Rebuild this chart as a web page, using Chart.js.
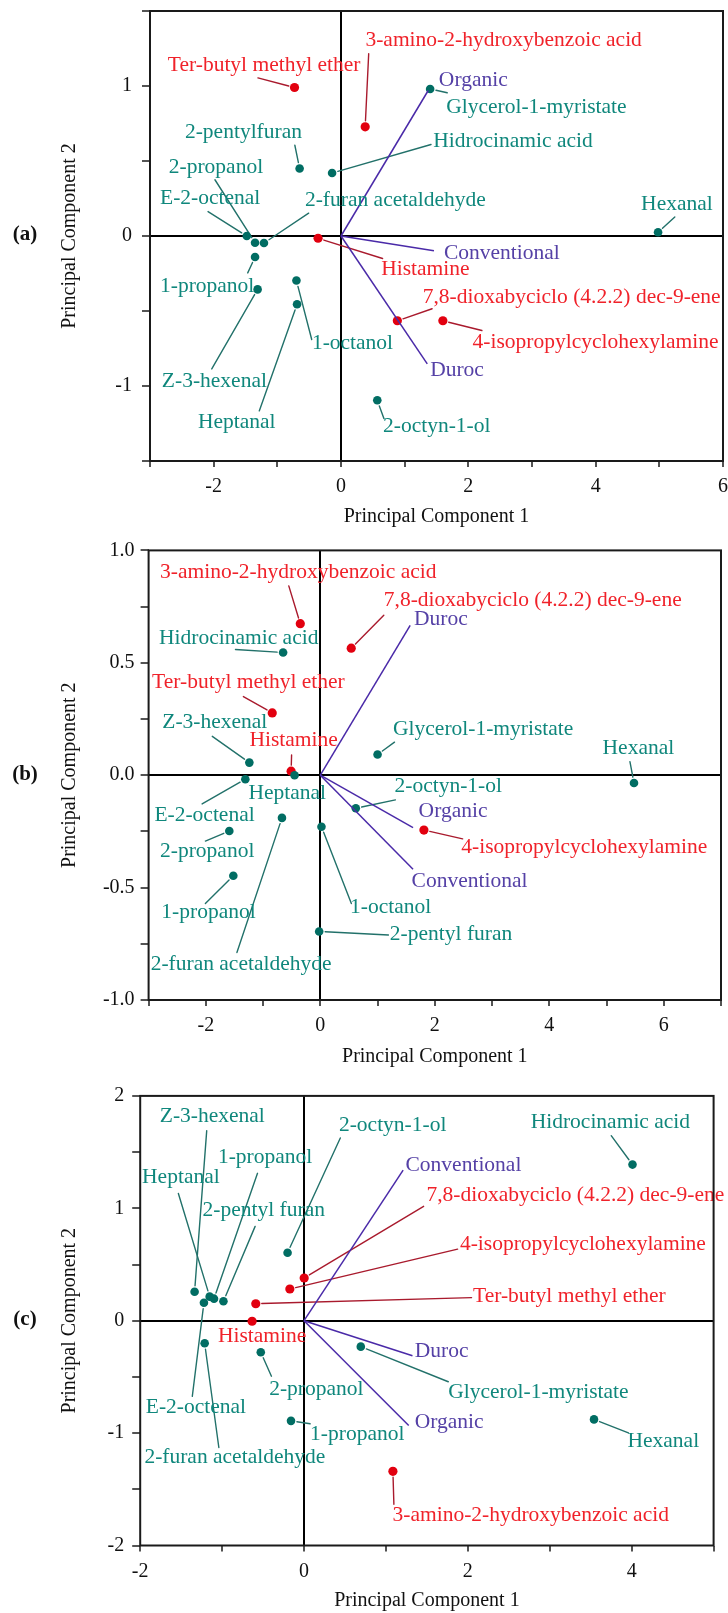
<!DOCTYPE html>
<html><head><meta charset="utf-8">
<script src="https://cdn.jsdelivr.net/npm/chart.js@4.4.1/dist/chart.umd.min.js"></script>
<style>
html,body{margin:0;padding:0;background:#fff;}
body{width:728px;height:1613px;position:relative;overflow:hidden;}
canvas{position:absolute;left:0;}
</style></head><body>
<canvas id="ca" width="728" height="538" style="top:0px"></canvas>
<canvas id="cb" width="728" height="538" style="top:538px"></canvas>
<canvas id="cc" width="728" height="537" style="top:1076px"></canvas>
<script>
// ---------------- DATA ----------------
// Panel (a)
const aTealNames = ['Glycerol-1-myristate','2-pentylfuran','Hidrocinamic acid','E-2-octenal','2-propanol','2-furan acetaldehyde','1-propanol','Z-3-hexenal','1-octanol','Heptanal','Hexanal','2-octyn-1-ol'];
const aTealPC1 = [1.40, -0.65, -0.14, -1.48, -1.35, -1.21, -1.35, -1.31, -0.70, -0.69, 4.98, 0.57];
const aTealPC2 = [0.98, 0.45, 0.42, 0.00, -0.045, -0.047, -0.14, -0.356, -0.297, -0.455, 0.025, -1.095];
const aRedNames = ['Ter-butyl methyl ether','3-amino-2-hydroxybenzoic acid','Histamine','7,8-dioxabyciclo (4.2.2) dec-9-ene','4-isopropylcyclohexylamine'];
const aRedPC1 = [-0.73, 0.38, -0.36, 0.885, 1.60];
const aRedPC2 = [0.99, 0.728, -0.015, -0.565, -0.565];
const aVecNames = ['Organic','Conventional','Duroc'];
const aVecPC1 = [1.37, 1.46, 1.355];
const aVecPC2 = [0.97, -0.098, -0.852];
const aXTickLabels = ['-2','0','2','4','6'];
const aXTickValues = [-2, 0, 2, 4, 6];
const aYTickLabels = ['-1','0','1'];
const aYTickValues = [-1, 0, 1];

// Panel (b)
const bTealNames = ['Hidrocinamic acid','Z-3-hexenal','Heptanal','E-2-octenal','Glycerol-1-myristate','Hexanal','2-octyn-1-ol','2-furan acetaldehyde','2-propanol','1-octanol','1-propanol','2-pentyl furan'];
const bTealPC1 = [-0.65, -1.24, -0.45, -1.31, 1.00, 5.48, 0.62, -0.67, -1.59, 0.02, -1.52, -0.02];
const bTealPC2 = [0.546, 0.056, 0.0, -0.018, 0.092, -0.035, -0.147, -0.19, -0.248, -0.229, -0.447, -0.695];
const bRedNames = ['3-amino-2-hydroxybenzoic acid','7,8-dioxabyciclo (4.2.2) dec-9-ene','Ter-butyl methyl ether','Histamine','4-isopropylcyclohexylamine'];
const bRedPC1 = [-0.35, 0.54, -0.84, -0.51, 1.81];
const bRedPC2 = [0.674, 0.565, 0.277, 0.018, -0.244];
const bVecNames = ['Duroc','Organic','Conventional'];
const bVecPC1 = [1.57, 1.62, 1.62];
const bVecPC2 = [0.666, -0.233, -0.418];
const bXTickLabels = ['-2','0','2','4','6'];
const bXTickValues = [-2, 0, 2, 4, 6];
const bYTickLabels = ['-1.0','-0.5','0.0','0.5','1.0'];
const bYTickValues = [-1, -0.5, 0, 0.5, 1];

// Panel (c)
const cTealNames = ['Z-3-hexenal','Heptanal','1-propanol','2-pentyl furan','E-2-octenal','2-furan acetaldehyde','2-octyn-1-ol','Hidrocinamic acid','2-propanol','Glycerol-1-myristate','1-propanol','Hexanal'];
const cTealPC1 = [-1.336, -1.152, -1.099, -0.984, -1.222, -1.213, -0.201, 4.01, -0.528, 0.693, -0.159, 3.54];
const cTealPC2 = [0.258, 0.214, 0.196, 0.173, 0.16, -0.201, 0.605, 1.389, -0.281, -0.231, -0.891, -0.878];
const cRedNames = ['7,8-dioxabyciclo (4.2.2) dec-9-ene','4-isopropylcyclohexylamine','Ter-butyl methyl ether','Histamine','3-amino-2-hydroxybenzoic acid'];
const cRedPC1 = [0.002, -0.173, -0.589, -0.634, 1.085];
const cRedPC2 = [0.38, 0.282, 0.151, -0.005, -1.34];
const cVecNames = ['Conventional','Duroc','Organic'];
const cVecPC1 = [1.21, 1.324, 1.278];
const cVecPC2 = [1.34, -0.312, -0.933];
const cXTickLabels = ['-2','0','2','4'];
const cXTickValues = [-2, 0, 2, 4];
const cYTickLabels = ['-2','-1','0','1','2'];
const cYTickValues = [-2, -1, 0, 1, 2];

// ---------------- LABEL LAYOUT (annotation placement, data units) ----------------
// [label left x, label middle y, leader start x, leader start y]
const aTealLbl = [[1.653,0.858,1.668,0.955],[-2.451,0.69,-0.725,0.605],[1.45,0.628,1.414,0.61],[-2.843,0.253,-2.088,0.163],[-2.705,0.455,-1.98,0.375],[-0.566,0.237,-0.508,0.152],[-2.843,-0.334,-1.465,-0.246],[-2.814,-0.971,-2.03,-0.886],[-0.457,-0.713,-0.46,-0.69],[-2.248,-1.24,-1.284,-1.166],[4.714,0.214,5.243,0.127],[0.66,-1.272,0.674,-1.217]];
const aRedLbl = [[-2.72,1.139,-1.305,1.054],[0.384,1.302,0.435,1.215],[0.631,-0.223,0.653,-0.15],[1.284,-0.412,1.431,-0.485],[2.067,-0.706,2.213,-0.63]];
const aVecLbl = [[1.537,1.037],[1.617,-0.115],[1.40,-0.897]];

const bTealLbl = [[-2.818,0.609,-1.482,0.559],[-2.761,0.233,-1.887,0.173],[-1.255,-0.08,null,null],[-2.899,-0.18,-2.065,-0.128],[1.271,0.203,1.296,0.147],[4.931,0.12,5.409,0.06],[1.296,-0.05,1.312,-0.11],[-2.964,-0.842,-1.457,-0.789],[-2.80,-0.338,-2.008,-0.293],[0.518,-0.589,0.542,-0.571],[-2.777,-0.609,-2.008,-0.571],[1.215,-0.707,1.19,-0.711]];
const bRedLbl = [[-2.80,0.902,-0.551,0.842],[1.109,0.777,1.109,0.711],[-2.939,0.411,-1.344,0.35],[-1.239,0.153,-0.502,0.09],[2.462,-0.32,2.486,-0.283]];
const bVecLbl = [[1.636,0.692],[1.717,-0.161],[1.595,-0.474]];

const cTealLbl = [[-1.761,1.821,-1.188,1.691],[-1.977,1.272,-1.534,1.132],[-1.051,1.457,-0.568,1.311],[-1.239,0.985,-0.597,0.839],[-1.932,-0.771,-1.364,-0.673],[-1.949,-1.22,-1.04,-1.128],[0.426,1.74,0.443,1.626],[2.767,1.766,3.75,1.646],[-0.426,-0.608,-0.398,-0.494],[1.761,-0.634,1.761,-0.543],[0.074,-1.015,0.074,-0.917],[3.949,-1.073,3.96,-0.998]];
const cRedLbl = [[1.494,1.115,1.46,1.018],[1.903,0.676,1.875,0.637],[2.063,0.221,2.045,0.205],[-1.051,-0.137,null,null],[1.08,-1.73,1.097,-1.633]];
const cVecLbl = [[1.239,1.385],[1.352,-0.276],[1.352,-0.901]];

// ---------------- STYLE ----------------
const SERIF = '"Liberation Serif","Times New Roman",serif';
const TEAL_TXT = '#0f877c', TEAL_PT = '#016d63', TEAL_LN = '#22716a';
const RED_TXT = '#f0222a', RED_PT = '#e2000f', RED_LN = '#a91a2d';
const PUR_TXT = '#5541a6', PUR_LN = '#4a2aa8';

const zip = (xs, ys) => xs.map((v, i) => ({x: v, y: ys[i]}));

const biplotPlugin = {
  id: 'biplot',
  beforeDatasetsDraw(chart, args, o) {
    const {ctx, scales: {x, y}} = chart;
    ctx.save();
    ctx.lineCap = 'round';
    for (const g of o.groups) {
      if (!g.lbl[0] || g.lbl[0].length < 4) continue;
      ctx.strokeStyle = g.lineColor; ctx.lineWidth = 1.4;
      g.px.forEach((vx, i) => {
        const L = g.lbl[i];
        if (L[2] === null) return;
        const sx = x.getPixelForValue(L[2]), sy = y.getPixelForValue(L[3]);
        const px = x.getPixelForValue(vx), py = y.getPixelForValue(g.py[i]);
        const dx = px - sx, dy = py - sy, len = Math.hypot(dx, dy);
        const k = len > 7 ? (len - 6) / len : 0.2;
        ctx.beginPath(); ctx.moveTo(sx, sy); ctx.lineTo(sx + dx * k, sy + dy * k); ctx.stroke();
      });
    }
    ctx.restore();
  },
  afterDatasetsDraw(chart, args, o) {
    const {ctx, chartArea: a, scales: {x, y}} = chart;
    ctx.save();
    ctx.font = '21.5px ' + SERIF;
    ctx.textAlign = 'left'; ctx.textBaseline = 'middle';
    for (const g of o.groups) {
      ctx.fillStyle = g.textColor;
      g.names.forEach((n, i) => {
        const L = g.lbl[i];
        ctx.fillText(n, x.getPixelForValue(L[0]), y.getPixelForValue(L[1]));
      });
    }
    // frame
    ctx.strokeStyle = '#1a1a1a'; ctx.lineWidth = 2;
    ctx.strokeRect(a.left, a.top, a.right - a.left, a.bottom - a.top);
    // panel letter
    ctx.fillStyle = '#111'; ctx.font = 'bold 21px ' + SERIF; ctx.textAlign = 'center';
    ctx.fillText(o.letter, 25, (a.top + a.bottom) / 2 - 1);
    ctx.restore();
  }
};

function makePanel(id, p) {
  const tealPts = zip(p.tealX, p.tealY), redPts = zip(p.redX, p.redY);
  const datasets = [];
  p.vecX.forEach((vx, i) => datasets.push({
    type: 'line', label: p.vecNames[i], data: [{x: 0, y: 0}, {x: vx, y: p.vecY[i]}],
    borderColor: PUR_LN, borderWidth: 1.5, pointRadius: 0, fill: false, tension: 0
  }));
  datasets.push({type: 'scatter', label: 'volatiles', data: tealPts, backgroundColor: TEAL_PT, borderColor: TEAL_PT, borderWidth: 0, pointRadius: 4.3});
  datasets.push({type: 'scatter', label: 'others', data: redPts, backgroundColor: RED_PT, borderColor: RED_PT, borderWidth: 0, pointRadius: 4.6});
  const zeroGrid = {
    color: c => (c.tick && Math.abs(c.tick.value) < 1e-9) ? '#000' : 'rgba(0,0,0,0)',
    lineWidth: 2, tickColor: '#1a1a1a', tickWidth: 1.5, drawOnChartArea: true, drawTicks: true
  };
  const tickLbl = (vals, labs) => v => {
    const i = vals.findIndex(t => Math.abs(t - v) < 1e-9);
    return i >= 0 ? labs[i] : '';
  };
  return new Chart(document.getElementById(id), {
    data: {datasets},
    plugins: [biplotPlugin],
    options: {
      responsive: false, animation: false, devicePixelRatio: 1,
      layout: {padding: {left: 0, top: p.top, right: p.right, bottom: 0}},
      plugins: {
        legend: {display: false}, tooltip: {enabled: false},
        biplot: {
          letter: p.letter,
          groups: [
            {names: p.tealNames, px: p.tealX, py: p.tealY, lbl: p.tealLbl, textColor: TEAL_TXT, lineColor: TEAL_LN},
            {names: p.redNames, px: p.redX, py: p.redY, lbl: p.redLbl, textColor: RED_TXT, lineColor: RED_LN},
            {names: p.vecNames, px: p.vecX, py: p.vecY, lbl: p.vecLbl, textColor: PUR_TXT, lineColor: PUR_LN}
          ]
        }
      },
      scales: {
        x: {
          type: 'linear', position: 'bottom', min: p.xmin, max: p.xmax,
          ticks: {stepSize: 1, autoSkip: false, maxRotation: 0, padding: 8, color: '#111', font: {family: SERIF, size: 20}, callback: tickLbl(p.xTickVals, p.xTickLabs)},
          grid: Object.assign({tickLength: 6}, zeroGrid),
          border: {display: false},
          title: {display: true, text: 'Principal Component 1', color: '#111', font: {family: SERIF, size: 20}, padding: {top: 0, bottom: p.xTitlePad}},
          afterFit(s) { s.height = p.xH; s.paddingLeft = 0; s.paddingRight = 0; }
        },
        y: {
          type: 'linear', position: 'left', min: p.ymin, max: p.ymax,
          ticks: {stepSize: p.ystep, autoSkip: false, padding: p.yPad, color: '#111', font: {family: SERIF, size: 20}, callback: tickLbl(p.yTickVals, p.yTickLabs)},
          grid: Object.assign({tickLength: 8}, zeroGrid),
          border: {display: false},
          title: {display: true, text: 'Principal Component 2', color: '#111', font: {family: SERIF, size: 20}, padding: {top: 57.5, bottom: 0}},
          afterFit(s) { s.width = p.yW; s.paddingTop = 0; s.paddingBottom = 0; }
        }
      }
    }
  });
}

makePanel('ca', {
  letter: '(a)', top: 11, right: 5, xH: 77, yW: 150, xTitlePad: 9, yPad: 10,
  xmin: -3, xmax: 6, ymin: -1.5, ymax: 1.5, ystep: 0.5,
  xTickVals: aXTickValues, xTickLabs: aXTickLabels, yTickVals: aYTickValues, yTickLabs: aYTickLabels,
  tealNames: aTealNames, tealX: aTealPC1, tealY: aTealPC2, tealLbl: aTealLbl,
  redNames: aRedNames, redX: aRedPC1, redY: aRedPC2, redLbl: aRedLbl,
  vecNames: aVecNames, vecX: aVecPC1, vecY: aVecPC2, vecLbl: aVecLbl
});
makePanel('cb', {
  letter: '(b)', top: 12.4, right: 7, xH: 76, yW: 148.6, xTitlePad: 7.6, yPad: 6,
  xmin: -3, xmax: 7, ymin: -1, ymax: 1, ystep: 0.25,
  xTickVals: bXTickValues, xTickLabs: bXTickLabels, yTickVals: bYTickValues, yTickLabs: bYTickLabels,
  tealNames: bTealNames, tealX: bTealPC1, tealY: bTealPC2, tealLbl: bTealLbl,
  redNames: bRedNames, redX: bRedPC1, redY: bRedPC2, redLbl: bRedLbl,
  vecNames: bVecNames, vecX: bVecPC1, vecY: bVecPC2, vecLbl: bVecLbl
});
makePanel('cc', {
  letter: '(c)', top: 19.9, right: 14.4, xH: 67.5, yW: 140.2, xTitlePad: 0, yPad: 8,
  xmin: -2, xmax: 5, ymin: -2, ymax: 2, ystep: 0.5,
  xTickVals: cXTickValues, xTickLabs: cXTickLabels, yTickVals: cYTickValues, yTickLabs: cYTickLabels,
  tealNames: cTealNames, tealX: cTealPC1, tealY: cTealPC2, tealLbl: cTealLbl,
  redNames: cRedNames, redX: cRedPC1, redY: cRedPC2, redLbl: cRedLbl,
  vecNames: cVecNames, vecX: cVecPC1, vecY: cVecPC2, vecLbl: cVecLbl
});
</script>
</body></html>
